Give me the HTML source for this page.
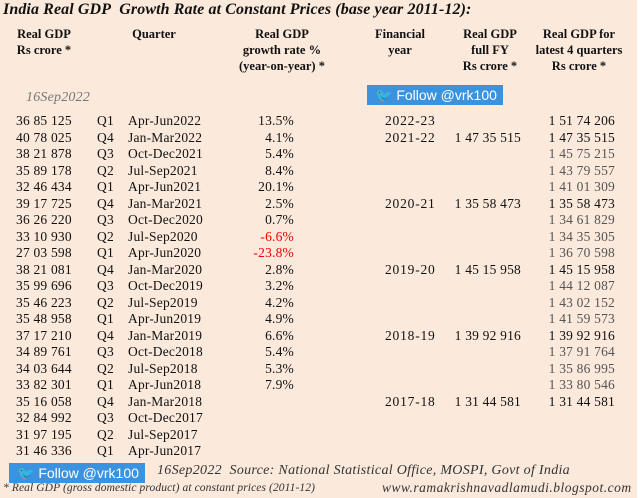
<!DOCTYPE html>
<html><head><meta charset="utf-8"><style>
body{margin:0;width:640px;height:498px;overflow:hidden;background:#fff;font-family:"Liberation Serif",serif;}
#wrap{position:absolute;left:0;top:0;width:637px;height:498px;background:#fbe9dc;}
.t{position:absolute;white-space:nowrap;font-size:13.5px;color:#111;letter-spacing:0.2px;}
.h{position:absolute;text-align:center;font-weight:bold;font-size:12.5px;line-height:16px;color:#111;}
.g{color:#555;}
.red{color:#e00;}
.tw{position:absolute;background:#3b93e0;color:#fff;font-family:"Liberation Sans",sans-serif;font-size:14px;height:20px;line-height:20px;padding:0 6px 0 8px;letter-spacing:0;}
</style></head><body>
<div id="wrap">
<div class="t" style="left:3px;top:1px;font-size:16px;font-weight:bold;font-style:italic;letter-spacing:0.1px">India Real GDP&nbsp; Growth Rate at Constant Prices (base year 2011-12):</div>
<div class="h" style="left:13px;top:26px;width:62px">Real GDP<br>Rs crore *</div>
<div class="h" style="left:120px;top:26px;width:68px">Quarter</div>
<div class="h" style="left:220px;top:26px;width:124px">Real GDP<br>growth rate %<br>(year-on-year) *</div>
<div class="h" style="left:370px;top:26px;width:60px">Financial<br>year</div>
<div class="h" style="left:450px;top:26px;width:80px">Real GDP<br>full FY<br>Rs crore *</div>
<div class="h" style="left:517px;top:26px;width:124px">Real GDP for<br>latest 4 quarters<br>Rs crore *</div>
<div class="t" style="left:26px;top:90px;font-style:italic;color:#777;font-size:14px">16Sep2022</div>
<div class="tw" style="left:367px;top:85px;">🐦 Follow @vrk100</div>
<div id="rows"></div>
<div class="tw" style="left:9px;top:463px;">🐦 Follow @vrk100</div>
<div class="t" style="left:157px;top:463px;font-style:italic;color:#333;font-size:14px;letter-spacing:0.3px">16Sep2022&nbsp; Source: National Statistical Office, MOSPI, Govt of India</div>
<div class="t" style="left:3px;top:482px;font-style:italic;color:#333;font-size:11.5px;letter-spacing:0.1px">* Real GDP (gross domestic product) at constant prices (2011-12)</div>
<div class="t" style="left:382px;top:480px;font-style:italic;color:#333;font-size:13.5px;letter-spacing:0.5px">www.ramakrishnavadlamudi.blogspot.com</div>
</div>
<script>
const gdp=["36 85 125","40 78 025","38 21 878","35 89 178","32 46 434","39 17 725","36 26 220","33 10 930","27 03 598","38 21 081","35 99 696","35 46 223","35 48 958","37 17 210","34 89 761","34 03 644","33 82 301","35 16 058","32 84 992","31 97 195","31 46 336"];
const qtr=["Q1","Q4","Q3","Q2","Q1","Q4","Q3","Q2","Q1","Q4","Q3","Q2","Q1","Q4","Q3","Q2","Q1","Q4","Q3","Q2","Q1"];
const period=["Apr-Jun2022","Jan-Mar2022","Oct-Dec2021","Jul-Sep2021","Apr-Jun2021","Jan-Mar2021","Oct-Dec2020","Jul-Sep2020","Apr-Jun2020","Jan-Mar2020","Oct-Dec2019","Jul-Sep2019","Apr-Jun2019","Jan-Mar2019","Oct-Dec2018","Jul-Sep2018","Apr-Jun2018","Jan-Mar2018","Oct-Dec2017","Jul-Sep2017","Apr-Jun2017"];
const growth=[13.5,4.1,5.4,8.4,20.1,2.5,0.7,-6.6,-23.8,2.8,3.2,4.2,4.9,6.6,5.4,5.3,7.9,null,null,null,null];
const fyRow=[0,1,5,9,13,17];
const fyName=["2022-23","2021-22","2020-21","2019-20","2018-19","2017-18"];
const fyVal=["","1 47 35 515","1 35 58 473","1 45 15 958","1 39 92 916","1 31 44 581"];
const last4=["1 51 74 206","1 47 35 515","1 45 75 215","1 43 79 557","1 41 01 309","1 35 58 473","1 34 61 829","1 34 35 305","1 36 70 598","1 45 15 958","1 44 12 087","1 43 02 152","1 41 59 573","1 39 92 916","1 37 91 764","1 35 86 995","1 33 80 546","1 31 44 581"];
const rows=document.getElementById('rows');
const y0=113,dy=16.5;
function add(txt,style,cls,name){const d=document.createElement('div');d.className='t '+(cls||'');d.textContent=txt;d.style.cssText=style;


rows.appendChild(d);}
for(let i=0;i<gdp.length;i++){const y=y0+i*dy;
add(gdp[i],`left:16px;top:${y}px`,'','gdp-value');
add(qtr[i],`left:97px;top:${y}px`,'','quarter-code');
add(period[i],`left:128px;top:${y}px`,'','quarter-period');
if(growth[i]!==null)add(growth[i].toFixed(1)+'%',`right:${640-297}px;top:${y}px`,growth[i]<0?'red':'','growth-rate');
}
for(let k=0;k<fyRow.length;k++){const y=y0+fyRow[k]*dy;
add(fyName[k],`left:385px;top:${y}px;letter-spacing:0.8px`,'','financial-year');
if(fyVal[k])add(fyVal[k],`right:${640-524}px;top:${y}px`,'','full-fy-gdp');}
for(let i=0;i<last4.length;i++){const y=y0+i*dy;
add(last4[i],`right:${640-618}px;top:${y}px`,i>1&&i!=5&&i!=9&&i!=13&&i!=17?'g':'','latest-4q-gdp');}
</script>
</body></html>
